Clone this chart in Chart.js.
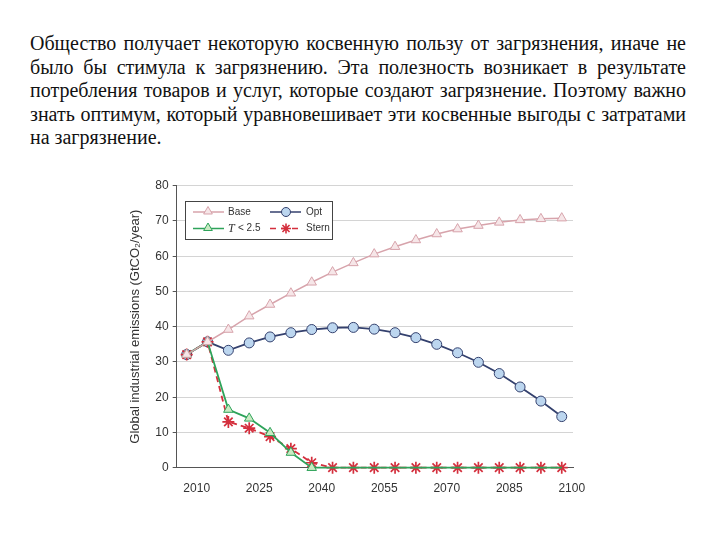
<!DOCTYPE html>
<html>
<head>
<meta charset="utf-8">
<script src="https://cdn.jsdelivr.net/npm/chart.js@4.4.1/dist/chart.umd.min.js"></script>
<style>
  body { margin: 0; background: #fff; width: 720px; height: 540px; overflow: hidden; }
  #text {
    position: absolute; left: 30px; top: 32px; width: 656px;
    font-family: "Liberation Serif", "DejaVu Serif", "Times New Roman", serif;
    font-size: 20px; line-height: 23.6px; color: #111;
    text-align: justify;
  }
  #wrap { position: absolute; left: 120px; top: 170px; width: 470px; height: 325px; }
</style>
</head>
<body>
<div id="text">Общество получает некоторую косвенную пользу от загрязнения, иначе не было бы стимула к загрязнению. Эта полезность возникает в результате потребления товаров и услуг, которые создают загрязнение. Поэтому важно знать оптимум, который уравновешивает эти косвенные выгоды с затратами на загрязнение.</div>
<div id="wrap"><canvas id="c"></canvas></div>
<script>
// ── Data ────────────────────────────────────────────────
const YEARS   = [2010, 2015, 2020, 2025, 2030, 2035, 2040, 2045, 2050, 2055,
                 2060, 2065, 2070, 2075, 2080, 2085, 2090, 2095, 2100];
const BASE    = [32.1, 35.7, 39.2, 43.0, 46.3, 49.5, 52.6, 55.5, 58.1, 60.6,
                 62.7, 64.6, 66.3, 67.7, 68.7, 69.6, 70.3, 70.6, 70.8];
const OPT     = [32.1, 35.7, 33.3, 35.4, 37.1, 38.3, 39.2, 39.7, 39.8, 39.3,
                 38.3, 36.9, 35.0, 32.6, 29.9, 26.7, 22.9, 18.9, 14.5];
const T25     = [32.1, 35.7, 16.5, 14.0, 9.9, 4.3, 0, 0, 0, 0,
                 0, 0, 0, 0, 0, 0, 0, 0, 0];
const STERN   = [32.1, 35.7, 13.0, 11.2, 8.8, 5.4, 1.4, 0, 0, 0,
                 0, 0, 0, 0, 0, 0, 0, 0, 0];
const X_TICKS = [2010, 2025, 2040, 2055, 2070, 2085, 2100];
const Y_TICKS = [0, 10, 20, 30, 40, 50, 60, 70, 80];

// ── Colours ─────────────────────────────────────────────
const C = {
  base:  { line: '#d7a3ab', fill: '#f6e6e8' },
  opt:   { line: '#34416e', fill: '#bcd6ef' },
  t25:   { line: '#2ea35a', fill: '#c9eac2' },
  stern: { line: '#d42f3d' },
  axis:  '#555',
  grid:  '#d4d4d4',
  text:  '#333',
};
const SANS = '"Liberation Sans", Arial, sans-serif';

const pts = arr => YEARS.map((x, i) => ({ x, y: arr[i] }));

// ── Legend markers (drawn by hand) ──────────────────────
function tri(ctx, x, y, r, stroke, fill) {
  ctx.beginPath();
  ctx.moveTo(x, y - r);
  ctx.lineTo(x + r * 0.87, y + r * 0.5);
  ctx.lineTo(x - r * 0.87, y + r * 0.5);
  ctx.closePath();
  ctx.fillStyle = fill; ctx.fill();
  ctx.strokeStyle = stroke; ctx.lineWidth = 1; ctx.stroke();
}
function circ(ctx, x, y, r, stroke, fill) {
  ctx.beginPath(); ctx.arc(x, y, r, 0, Math.PI * 2);
  ctx.fillStyle = fill; ctx.fill();
  ctx.strokeStyle = stroke; ctx.lineWidth = 1; ctx.stroke();
}
function star(ctx, x, y, r, stroke) {
  ctx.beginPath();
  for (let k = 0; k < 4; k++) {
    const a = k * Math.PI / 4;
    ctx.moveTo(x - Math.sin(a) * r, y - Math.cos(a) * r);
    ctx.lineTo(x + Math.sin(a) * r, y + Math.cos(a) * r);
  }
  ctx.strokeStyle = stroke; ctx.lineWidth = 1.6; ctx.stroke();
}

const boxLegend = {
  id: 'boxLegend',
  afterDraw(chart) {
    const ctx = chart.ctx;
    ctx.save();
    ctx.fillStyle = '#fff';
    ctx.fillRect(65, 31, 147, 38);
    ctx.strokeStyle = '#444'; ctx.lineWidth = 1;
    ctx.strokeRect(65.5, 31.5, 147, 38);

    const row = (y, x0, col, dash) => {
      ctx.beginPath(); ctx.setLineDash(dash || []);
      ctx.moveTo(x0, y); ctx.lineTo(x0 + 31, y);
      ctx.strokeStyle = col; ctx.lineWidth = 1.5; ctx.stroke();
      ctx.setLineDash([]);
    };
    row(42, 73, C.base.line);  tri(ctx, 88, 41.5, 5, C.base.line, C.base.fill);
    row(42, 150, C.opt.line);  circ(ctx, 166, 42, 4.5, C.opt.line, C.opt.fill);
    row(58.5, 73, C.t25.line); tri(ctx, 88, 58, 5, C.t25.line, C.t25.fill);
    row(58.5, 150, C.stern.line, [6, 5]); star(ctx, 166, 58.5, 5, C.stern.line);

    ctx.fillStyle = C.text; ctx.textBaseline = 'middle';
    ctx.font = '10px ' + SANS;
    ctx.fillText('Base', 108, 42);
    ctx.fillText('Opt', 186, 42);
    ctx.fillText('Stern', 186, 58.5);
    ctx.font = 'italic 12px "Liberation Serif", "DejaVu Serif", serif';
    ctx.fillText('T', 108, 58.5);
    ctx.font = '10px ' + SANS;
    ctx.fillText('< 2.5', 118, 58.5);
    ctx.restore();
  },
};

new Chart(document.getElementById('c'), {
  type: 'line',
  data: {
    datasets: [
      { label: 'Base', data: pts(BASE), borderColor: C.base.line, borderWidth: 1.5,
        pointStyle: 'triangle', pointRadius: 5.5, pointBackgroundColor: C.base.fill,
        pointBorderColor: C.base.line, pointBorderWidth: 1, clip: false },
      { label: 'T < 2.5', data: pts(T25), borderColor: C.t25.line, borderWidth: 1.8,
        pointStyle: 'triangle', pointRadius: T25.map((v, i) => i <= 6 ? 5.5 : 0),
        pointBackgroundColor: C.t25.fill, pointBorderColor: C.t25.line, pointBorderWidth: 1,
        clip: false },
      { label: 'Stern', data: pts(STERN), borderColor: C.stern.line, borderWidth: 1.8,
        borderDash: [6, 4], pointStyle: 'star', pointRadius: 6,
        pointBorderColor: C.stern.line, pointBorderWidth: 1.7, clip: false },
      { label: 'Opt', data: pts(OPT), borderColor: C.opt.line, borderWidth: 1.8,
        pointStyle: 'circle', pointRadius: 5, pointBackgroundColor: C.opt.fill,
        pointBorderColor: C.opt.line, pointBorderWidth: 1, clip: false },
    ],
  },
  options: {
    responsive: true,
    maintainAspectRatio: false,
    animation: false,
    layout: { padding: { top: 15.7, right: 17, left: 0, bottom: 0 } },
    plugins: { legend: { display: false }, tooltip: { enabled: false } },
    scales: {
      x: {
        type: 'linear', min: 2007.6, max: 2102.7,
        afterBuildTicks: s => { s.ticks = X_TICKS.map(v => ({ value: v })); },
        afterFit: s => { s.height = 27.3; },
        grid: { display: false },
        border: { color: C.axis, width: 1 },
        ticks: { color: C.text, labelOffset: 10, padding: 6,
                 callback: v => String(v),
                 font: { size: 12, family: SANS } },
      },
      y: {
        min: 0, max: 80,
        afterBuildTicks: s => { s.ticks = Y_TICKS.map(v => ({ value: v })); },
        afterFit: s => { s.width = 56.7; },
        grid: { color: C.grid, tickColor: C.axis, tickLength: 4 },
        border: { color: C.axis, width: 1 },
        ticks: { color: C.text, padding: 4,
                 font: { size: 12, family: SANS } },
        title: { display: true, text: 'Global industrial emissions (GtCO₂/year)',
                 color: C.text, padding: { top: 8, bottom: 4 },
                 font: { size: 13, family: SANS } },
      },
    },
  },
  plugins: [boxLegend],
});
</script>
</body>
</html>
